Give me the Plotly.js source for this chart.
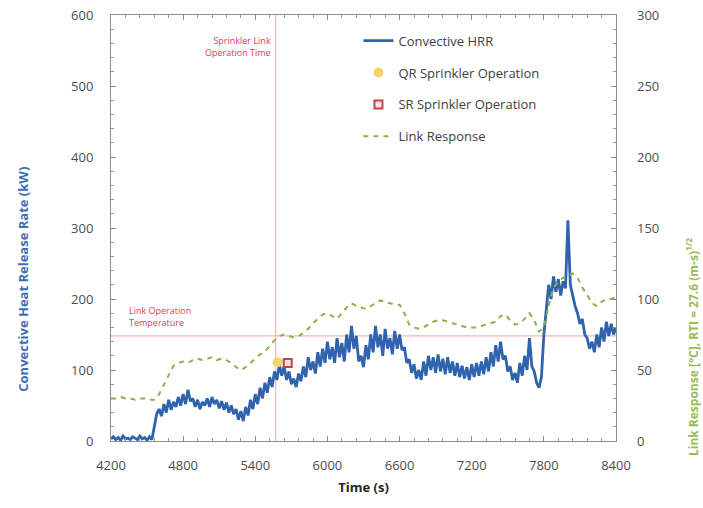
<!DOCTYPE html>
<html>
<head>
<meta charset="utf-8">
<script src="https://cdn.plot.ly/plotly-3.0.1.min.js"></script>
<style>
  html, body { margin: 0; padding: 0; background: #fff; }
  #chart { width: 703px; height: 508px; }
</style>
</head>
<body>
<div id="chart"></div>
<script>
// Convective heat release rate, sampled every 20 s from 4200 s to 8400 s (kW)
const hrrStart = 4200;
const hrrStep = 20;
const hrrValues = [
  3, 6, 2, 5, 1, 7, 3, 4, 2, 6,
  4, 2, 7, 3, 5, 1, 6, 2, 20, 38,
  45, 35, 52, 40, 58, 44, 55, 48, 62, 50,
  66, 52, 72, 56, 60, 48, 58, 45, 55, 50,
  60, 48, 62, 52, 58, 46, 56, 44, 54, 40,
  50, 38, 45, 30, 42, 28, 48, 36, 58, 45,
  66, 52, 75, 60, 82, 68, 90, 76, 98, 86,
  108, 92, 105, 86, 98, 80, 88, 76, 95, 84,
  105, 90, 118, 100, 112, 95, 125, 105, 130, 110,
  140, 115, 132, 110, 145, 118, 138, 112, 150, 125,
  162, 130, 148, 112, 120, 104, 135, 115, 150, 125,
  162, 132, 150, 120, 158, 130, 145, 122, 155, 130,
  150, 128, 132, 110, 115, 96, 108, 88, 100, 86,
  112, 92, 120, 100, 118, 96, 122, 98, 116, 94,
  118, 96, 112, 92, 110, 90, 106, 88, 104, 86,
  108, 90, 110, 92, 112, 94, 118, 98, 125, 105,
  135, 112, 140, 115, 120, 98, 105, 86, 96, 82,
  110, 92, 120, 100, 145, 105, 98, 82, 75, 90,
  150, 190, 220, 200, 232, 210, 228, 205, 225, 215,
  311, 220, 205, 190, 180, 165, 172, 150, 145, 130,
  140, 125, 150, 132, 160, 140, 168, 148, 165, 150,
  160
];

// Sprinkler link temperature response, sampled every 40 s (°C)
const linkStart = 4200;
const linkStep = 40;
const linkValues = [
  30, 30, 31, 30, 30, 29, 30, 30, 29, 29,
  33, 40, 47, 53, 55, 56, 55, 57, 58, 57,
  58, 59, 57, 58, 57, 55, 52, 50, 52, 55,
  58, 61, 63, 67, 71, 74, 75, 74, 73, 74,
  76, 79, 83, 86, 89, 90, 88, 86, 90, 94,
  97, 95, 94, 93, 95, 97, 99, 98, 97, 96,
  96, 90, 82, 80, 79, 80, 82, 84, 85, 85,
  84, 83, 82, 81, 80, 80, 80, 81, 82, 83,
  84, 88, 89, 85, 82, 83, 86, 90, 85, 77,
  80, 95, 108, 112, 115, 116, 118, 115, 108, 103,
  97, 95, 98, 100, 100, 101
];

// Sprinkler activation points [time (s), HRR (kW)]
const qrOperation = { time: [5585], hrr: [111] };
const srOperation = { time: [5670], hrr: [110] };

// Reference marks
const linkOperationTime = 5570;        // s
const linkOperationTemperature = 74;   // °C

const hrrTime = hrrValues.map((_, i) => hrrStart + i * hrrStep);
const linkTime = linkValues.map((_, i) => linkStart + i * linkStep);

const blue = '#2f63ae';
const green = '#8fb04c';
const redLine = '#f4a4aa';
const redText = '#e8365a';
const tickColor = '#4d4d4d';
const font = 'Open Sans, Noto Sans, sans-serif';

const traces = [
  {
    x: hrrTime, y: hrrValues, type: 'scatter', mode: 'lines',
    name: 'Convective HRR', legendgroup: 'a',
    line: { color: blue, width: 2.8 }
  },
  {
    x: qrOperation.time, y: qrOperation.hrr, type: 'scatter', mode: 'markers',
    name: 'QR Sprinkler Operation', legendgroup: 'b',
    marker: { symbol: 'circle', size: 10, color: '#f3d46a', line: { width: 0 } }
  },
  {
    x: srOperation.time, y: srOperation.hrr, type: 'scatter', mode: 'markers',
    name: 'SR Sprinkler Operation', legendgroup: 'c',
    marker: { symbol: 'square', size: 8, color: '#fbe3e3', line: { color: '#c8404a', width: 2 } }
  },
  {
    x: linkTime, y: linkValues, type: 'scatter', mode: 'lines', yaxis: 'y2',
    name: 'Link Response', legendgroup: 'd',
    line: { color: green, width: 2, dash: '5px,5px' }
  }
];

const layout = {
  width: 703, height: 508,
  margin: { l: 111, r: 87, t: 15, b: 67 },
  paper_bgcolor: '#fff', plot_bgcolor: '#fff',
  font: { family: font, size: 13, color: tickColor },
  showlegend: true,
  legend: {
    x: 0.49, y: 0.975, xanchor: 'left', yanchor: 'top',
    bgcolor: 'rgba(255,255,255,0)', borderwidth: 0,
    font: { family: font, size: 13, color: '#404040' },
    tracegroupgap: 12, itemwidth: 30
  },
  xaxis: {
    range: [4200, 8400], tickvals: [4200, 4800, 5400, 6000, 6600, 7200, 7800, 8400],
    ticks: 'inside', ticklen: 5, tickcolor: '#888', showgrid: false, zeroline: false,
    showline: true, linecolor: '#8c8c8c', linewidth: 1, mirror: 'ticks',
    ticklabelstandoff: 12,
    minor: { dtick: 120, ticks: 'inside', ticklen: 3, tickcolor: '#999', showgrid: false },
    title: { text: '<b>Time (s)</b>', font: { family: font, size: 13, color: '#262626' }, standoff: 10 }
  },
  yaxis: {
    range: [0, 600], dtick: 100,
    ticks: 'inside', ticklen: 5, tickcolor: '#888', showgrid: false, zeroline: false,
    showline: true, linecolor: '#8c8c8c', linewidth: 1, mirror: 'ticks',
    ticklabelstandoff: 14,
    minor: { dtick: 20, ticks: 'inside', ticklen: 3, tickcolor: '#999', showgrid: false }
  },
  yaxis2: {
    range: [0, 300], dtick: 50, overlaying: 'y', side: 'right',
    ticks: 'inside', ticklen: 5, tickcolor: '#888', showgrid: false, zeroline: false,
    showline: false, ticklabelstandoff: 20,
    minor: { dtick: 10, ticks: 'inside', ticklen: 3, tickcolor: '#999', showgrid: false }
  },
  shapes: [
    { type: 'line', xref: 'x', yref: 'paper', x0: linkOperationTime, x1: linkOperationTime, y0: 0, y1: 1,
      line: { color: redLine, width: 1 }, layer: 'below' },
    { type: 'line', xref: 'paper', yref: 'y2', x0: 0, x1: 1, y0: linkOperationTemperature, y1: linkOperationTemperature,
      line: { color: redLine, width: 1 }, layer: 'below' }
  ],
  annotations: [
    { text: 'Sprinkler Link<br>Operation Time', xref: 'x', yref: 'y', x: 5545, y: 556,
      xanchor: 'right', yanchor: 'middle', align: 'right', showarrow: false,
      font: { family: font, size: 9, color: redText } },
    { text: 'Link Operation<br>Temperature', xref: 'x', yref: 'y', x: 4330, y: 175,
      xanchor: 'left', yanchor: 'middle', align: 'left', showarrow: false,
      font: { family: font, size: 9, color: redText } },
    { text: '<b>Convective Heat Release Rate (kW)</b>', xref: 'paper', yref: 'paper',
      x: -0.175, y: 0.38, textangle: -90, showarrow: false, xanchor: 'center', yanchor: 'middle',
      font: { family: font, size: 13, color: '#3a6fb6' } },
    { text: '<b>Link Response [°C], RTI = 27.6 (m-s)<sup>1/2</sup></b>', xref: 'paper', yref: 'paper',
      x: 1.152, y: 0.22, textangle: -90, showarrow: false, xanchor: 'center', yanchor: 'middle',
      font: { family: font, size: 12, color: '#9bbb59' } }
  ]
};

Plotly.newPlot('chart', traces, layout, { staticPlot: true, displayModeBar: false });
</script>
</body>
</html>
